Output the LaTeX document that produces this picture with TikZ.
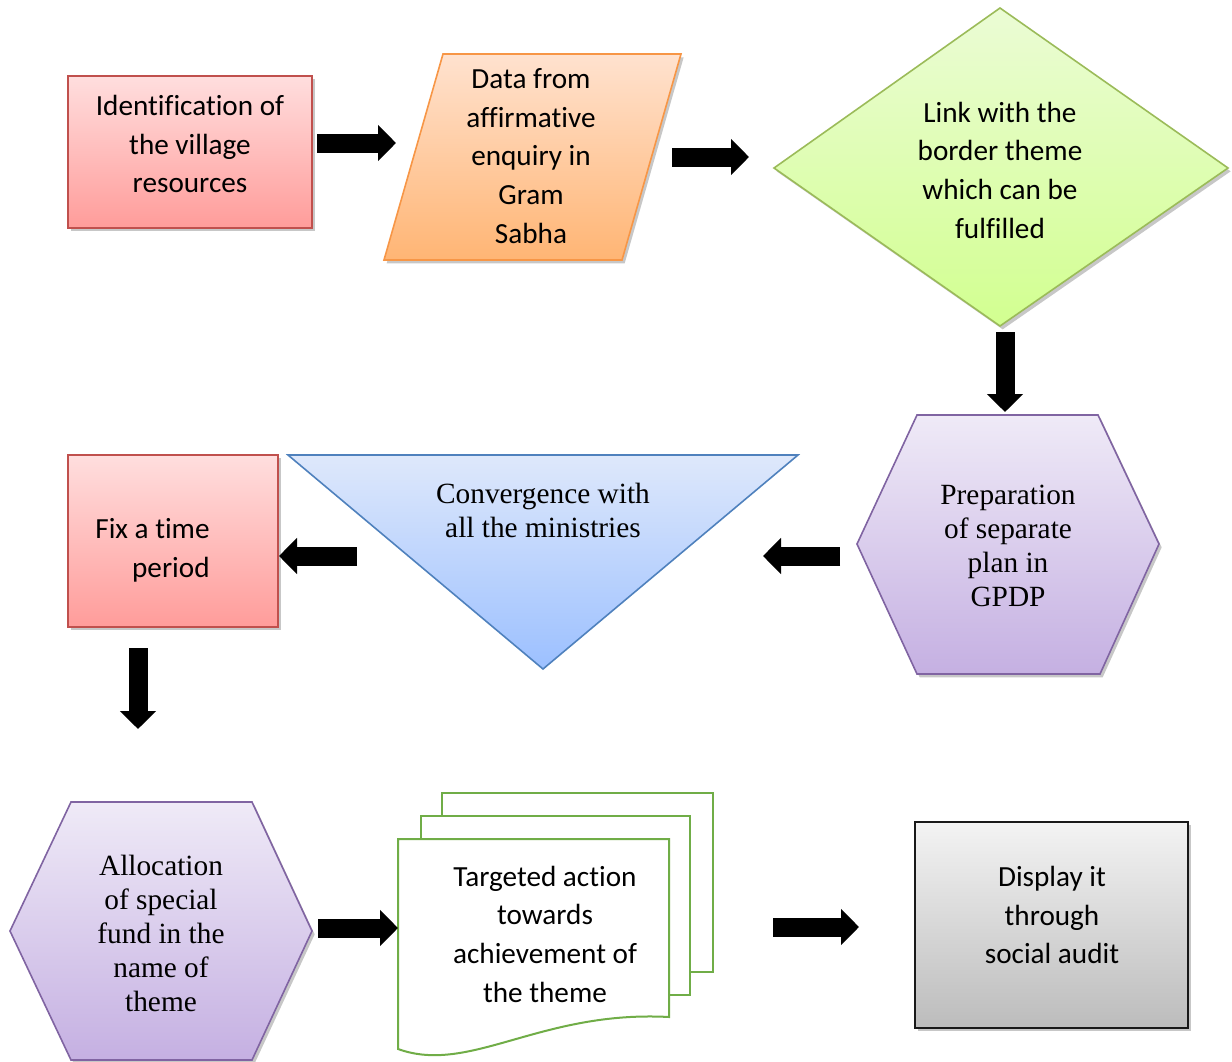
\documentclass[tikz,border=0pt]{standalone}
\usepackage{fontspec}
\setmainfont{Liberation Serif}
\newfontfamily\calibri[Ligatures=NoCommon]{Carlito}
\usetikzlibrary{arrows.meta,shadows}

\definecolor{redline}{HTML}{C0504D}
\definecolor{redtop}{HTML}{FFDEDE}
\definecolor{redbot}{HTML}{FF9C9A}
\definecolor{orgline}{HTML}{F79646}
\definecolor{orgtop}{HTML}{FFE2CF}
\definecolor{orgbot}{HTML}{FFB574}
\definecolor{grnline}{HTML}{9BBB59}
\definecolor{grntop}{HTML}{EBFCD5}
\definecolor{grnbot}{HTML}{D2FF90}
\definecolor{vioLine}{HTML}{8064A2}
\definecolor{viotop}{HTML}{EFEAF7}
\definecolor{viobot}{HTML}{C5B0E2}
\definecolor{bluline}{HTML}{4F81BD}
\definecolor{blutop}{HTML}{DEE8FB}
\definecolor{blubot}{HTML}{9CC0FF}
\definecolor{docline}{HTML}{70AD47}
\definecolor{grytop}{HTML}{F3F3F3}
\definecolor{grybot}{HTML}{BCBCBC}

\tikzset{
  shadowed/.style={drop shadow={shadow xshift=2pt,shadow yshift=-2.5pt,opacity=0.22,fill=black}},
  outline/.style={line width=1.2pt, line join=miter},
  redshape/.style={outline, draw=redline, top color=redtop, bottom color=redbot, shadowed},
  orgshape/.style={outline, draw=orgline, top color=orgtop, bottom color=orgbot, shadowed},
  grnshape/.style={outline, draw=grnline, top color=grntop, bottom color=grnbot, shadowed},
  vioshape/.style={outline, draw=vioLine, top color=viotop, bottom color=viobot, shadowed},
  blushape/.style={outline, draw=bluline, top color=blutop, bottom color=blubot},
  gryshape/.style={outline, draw=black!90, top color=grytop, bottom color=grybot, shadowed},
  docshape/.style={line width=1.5pt, draw=docline, fill=white, line join=miter},
  sanstext/.style={font=\calibri\fontsize{21.9}{29}\selectfont, align=center, inner sep=0pt},
  seriftext/.style={font=\fontsize{22}{25.5}\selectfont, align=center, inner sep=0pt},
  blockarrow/.style={draw=black, line width=14.25pt,
    -{Triangle[length=13.5pt,width=26.5pt]}},
}

\begin{document}
\begin{tikzpicture}[x=0.75pt,y=-0.75pt]
\useasboundingbox (0,0) rectangle (1232,1061);

% ---- shapes ----
\path[redshape] (68,76) rectangle (312,228);
\path[orgshape] (443,54) -- (681,54) -- (622,260) -- (384,260) -- cycle;
\path[grnshape] (1000,8) -- (1228,168) -- (1000,326) -- (774,168) -- cycle;
\path[vioshape] (917,415) -- (1098,415) -- (1159,544) -- (1100,674) -- (917,674) -- (857,544) -- cycle;
\path[blushape] (288,455) -- (798,455) -- (543,669) -- cycle;
\path[redshape] (68,455) rectangle (278,627);
\path[vioshape] (71,802) -- (252,802) -- (312,931) -- (252,1060) -- (71,1060) -- (10,931) -- cycle;
\path[docshape] (442,793) rectangle (713,972);
\path[docshape] (421,816) rectangle (690,995);
\path[docshape] (398,839) -- (669,839) -- (669,1017)
  .. controls (540,1010) and (470,1075) .. (398,1049) -- cycle;
\path[gryshape] (915,822) rectangle (1188,1028);

% ---- labels ----
\node[sanstext] (ident) at (190,144) {Identification of\\the village\\resources};
\node[sanstext] (data) at (531,156) {Data from\\affirmative\\enquiry in\\Gram\\Sabha};
\node[sanstext] (link) at (1000,170) {Link with the\\border theme\\which can be\\fulfilled};
\node[seriftext] (prep) at (1008,546) {Preparation\\of separate\\plan in\\GPDP};
\node[seriftext] (conv) at (543,510) {Convergence with\\all the ministries};
\node[sanstext, align=right] (fix) at (152.5,550) {Fix a time\\period};
\node[seriftext] (alloc) at (161,933) {Allocation\\of special\\fund in the\\name of\\theme};
\node[sanstext] (target) at (545,934) {Targeted action\\towards\\achievement of\\the theme};
\node[sanstext] (disp) at (1052,915) {Display it\\through\\social audit};

% ---- arrow end points ----
\coordinate (a1s) at (317,143);  \coordinate (a1e) at (396,143);
\coordinate (a2s) at (672,157);  \coordinate (a2e) at (749,157);
\coordinate (a3s) at (1005,332); \coordinate (a3e) at (1005,412);
\coordinate (a4s) at (840,556);  \coordinate (a4e) at (763,556);
\coordinate (a5s) at (357,556);  \coordinate (a5e) at (279,556);
\coordinate (a6s) at (138,648);  \coordinate (a6e) at (138,729);
\coordinate (a7s) at (318,928);  \coordinate (a7e) at (398,928);
\coordinate (a8s) at (773,927);  \coordinate (a8e) at (859,927);

\draw[blockarrow] (a1s) -- (a1e);
\draw[blockarrow] (a2s) -- (a2e);
\draw[blockarrow] (a3s) -- (a3e);
\draw[blockarrow] (a4s) -- (a4e);
\draw[blockarrow] (a5s) -- (a5e);
\draw[blockarrow] (a6s) -- (a6e);
\draw[blockarrow] (a7s) -- (a7e);
\draw[blockarrow] (a8s) -- (a8e);
\end{tikzpicture}
\end{document}
